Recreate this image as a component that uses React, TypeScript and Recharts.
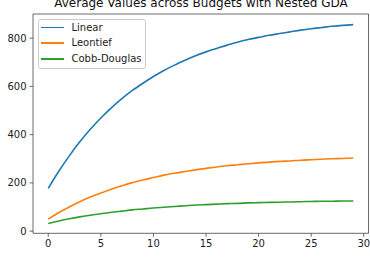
import React from "react";
import { LineChart, Line, XAxis, YAxis, ReferenceArea, Legend } from "recharts";

const steps = [0,1,2,3,4,5,6,7,8,9,10,11,12,13,14,15,16,17,18,19,20,21,22,23,24,25,26,27,28,29];
const linear = [177,248,312,370,422,469,511,549,583,613,641,666,688,708,727,743,757,771,783,794,803,812,819,826,833,839,844,849,853,856];
const leontief = [50,77,100,122,141,158,174,188,201,212,222,232,240,247,254,260,266,271,275,279,283,286,289,291,294,296,298,300,301,303];
const cobbDouglas = [32,42,51,59,66,72,78,83,88,92,96,99,102,105,108,110,112,114,115,117,118,119,120,121,122,123,124,124,125,125];
const xTicks = [0,5,10,15,20,25,30];
const yTicks = [0,200,400,600,800];
const seriesNames = ["Linear","Leontief","Cobb-Douglas"];
const colors = ["#1f77b4","#ff7f0e","#2ca02c"];
const title = "Average Values across Budgets with Nested GDA";

const data = steps.map((x, i) => ({ x, linear: linear[i], leontief: leontief[i], cobb: cobbDouglas[i] }));

const FONT = "'DejaVu Sans', sans-serif";

const renderLegend = () => (
  <div style={{ position: "relative", width: 106, height: 48, border: "1px solid #cccccc", borderRadius: 3, background: "rgba(255,255,255,0.8)", fontFamily: FONT, fontSize: 10, color: "#222" }}>
    {seriesNames.map((n, i) => (
      <div key={n} style={{ position: "absolute", left: 0, top: 8 + i * 15.8 - 7, height: 14, width: 106 }}>
        <div style={{ position: "absolute", left: 2.5, top: 6.2, width: 22.5, height: 1.6, background: colors[i] }} />
        <div style={{ position: "absolute", left: 33, top: 0, lineHeight: "14px", whiteSpace: "nowrap" }}>{n}</div>
      </div>
    ))}
  </div>
);

export default function App() {
  return (
    <div style={{ position: "absolute", left: 0, top: 0, width: 370, height: 258, background: "#fff", overflow: "hidden" }}>
      <div style={{ position: "absolute", left: 0, top: -4.5, width: 402, textAlign: "center", fontFamily: FONT, fontSize: 12, color: "#111", whiteSpace: "nowrap", lineHeight: "14px" }}>
        {title}
      </div>
      <LineChart width={370} height={258} data={data} margin={{ top: 14, right: 1.5, bottom: 0, left: 0 }} style={{ position: "absolute", left: 0, top: 0 }}>
        <XAxis dataKey="x" type="number" domain={[-1.45, 30.45]} ticks={xTicks} allowDataOverflow interval={0}
          height={24.7} tickSize={3.5} tickMargin={3} axisLine={false}
          tickLine={{ stroke: "#444", strokeWidth: 0.8 }}
          tick={{ fontFamily: FONT, fontSize: 10, fill: "#222" }} />
        <YAxis type="number" domain={[-9, 900]} ticks={yTicks} allowDataOverflow interval={0}
          width={33} tickSize={3.5} tickMargin={3} axisLine={false}
          tickLine={{ stroke: "#444", strokeWidth: 0.8 }}
          tick={{ fontFamily: FONT, fontSize: 10, fill: "#222" }} />
        <ReferenceArea x1={-1.45} x2={30.45} y1={-9} y2={900} fill="none" stroke="#444" strokeWidth={0.8} ifOverflow="visible" />
        <Line type="monotone" dataKey="linear" name={seriesNames[0]} stroke={colors[0]} strokeWidth={1.6} dot={false} isAnimationActive={false} />
        <Line type="monotone" dataKey="leontief" name={seriesNames[1]} stroke={colors[1]} strokeWidth={1.6} dot={false} isAnimationActive={false} />
        <Line type="monotone" dataKey="cobb" name={seriesNames[2]} stroke={colors[2]} strokeWidth={1.6} dot={false} isAnimationActive={false} />
        <Legend layout="horizontal" verticalAlign="middle" align="center" content={renderLegend}
          wrapperStyle={{ position: "absolute", left: 37.5, top: 18.5, width: 108, height: 50 }} />
      </LineChart>
    </div>
  );
}
